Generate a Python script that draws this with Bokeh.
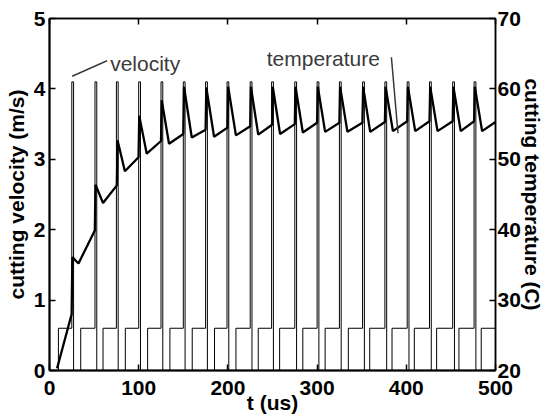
import math
from bokeh.plotting import figure
from bokeh.models import Range1d, LinearAxis, FixedTicker, Label
from bokeh.embed import file_html
from bokeh.resources import INLINE

# ---------------- data ----------------
x_ticks = [0, 100, 200, 300, 400, 500]
vel_ticks = [0, 1, 2, 3, 4, 5]
temp_ticks = [20, 30, 40, 50, 60, 70]

# velocity square wave (t in us, velocity in m/s)
vel_on_times = [10, 35, 60, 85, 110, 135, 160, 185, 209, 234, 258, 284, 309, 335, 359, 384, 409, 434, 459, 484]
vel_spike_times = [25, 51, 75, 100, 125, 150, 175, 199, 225, 249, 275, 300, 325, 351, 376, 401, 426, 452, 476]
vel_off_times = [27, 53, 77, 102, 127, 152, 177, 201, 227, 251, 277, 302, 327, 353, 378, 403, 428, 454, 478]
vel_base = 0.6
vel_peak = 4.1
t_end = 500

# temperature (t in us, temperature in C)
temp_t = [8.5, 24.8, 25.6, 32.5,
          50.8, 51.6, 60.0,
          75.5, 76.3, 84.5,
          99.8, 100.6, 109.0,
          125.0, 125.8, 134.0,
          150.0, 150.8, 159.5,
          175.0, 175.8, 184.5,
          199.5, 200.3, 209.0,
          225.0, 225.8, 234.0,
          249.5, 250.3, 258.5,
          275.0, 275.8, 284.0,
          300.0, 300.8, 309.0,
          325.0, 325.8, 334.0,
          350.8, 351.6, 359.5,
          376.0, 376.8, 385.0,
          401.0, 401.8, 410.0,
          426.0, 426.8, 435.0,
          452.0, 452.8, 461.0,
          476.0, 476.8, 485.0,
          500.0]
temp_c = [20.3, 28.0, 36.1, 35.2,
          39.9, 46.4, 43.8,
          46.3, 52.7, 48.3,
          50.3, 56.2, 50.8,
          52.6, 58.4, 52.2,
          53.6, 60.3, 53.1,
          54.2, 60.2, 53.2,
          54.5, 60.3, 53.4,
          54.7, 60.3, 53.5,
          54.9, 60.3, 53.6,
          55.0, 60.3, 53.8,
          55.2, 60.3, 53.9,
          55.2, 60.3, 53.9,
          55.2, 60.3, 53.9,
          55.3, 60.3, 54.0,
          55.4, 60.3, 54.0,
          55.4, 60.3, 54.0,
          55.4, 60.3, 54.0,
          55.4, 60.3, 54.0,
          55.3]

# annotation texts and their pointers (data coordinates)
vel_note = ("velocity", 68.0, 4.36)
vel_pointer = ([25.4, 64.5], [4.18, 4.40])
temp_note = ("temperature", 243.5, 4.43)
temp_pointer = ([383.3, 390.7], [4.45, 3.37])

x_title = "t (us)"
vel_title = "cutting velocity (m/s)"
temp_title = "cutting temperature (C)"

# ---------------- build velocity polyline from the switching times ----------------
vt, vv = [0], [0]
for i, on in enumerate(vel_on_times):
    vt += [on, on]
    vv += [0, vel_base]
    if i < len(vel_spike_times):
        s, o = vel_spike_times[i], vel_off_times[i]
        vt += [s, s, o, o]
        vv += [vel_base, vel_peak, vel_peak, 0]
vt.append(t_end)
vv.append(vel_base)

# ---------------- figure ----------------
FONT = "Liberation Sans"
p = figure(width=546, height=417, output_backend="svg", toolbar_location=None,
           x_range=Range1d(0, 500), y_range=Range1d(0, 5),
           min_border_left=49, min_border_right=50, min_border_top=18, min_border_bottom=47)
p.extra_y_ranges = {"temp": Range1d(20, 70)}
p.xgrid.visible = False
p.ygrid.visible = False
p.background_fill_color = "white"
p.border_fill_color = "white"
p.outline_line_color = "black"
p.outline_line_width = 1.5


def style(ax, lw, standoff):
    ax.major_tick_in = 6
    ax.major_tick_out = 0
    ax.minor_tick_line_color = None
    ax.major_tick_line_color = "black"
    ax.major_tick_line_width = 1.5
    ax.axis_line_color = "black"
    ax.axis_line_width = lw
    ax.major_label_text_font = FONT
    ax.major_label_text_font_style = "bold"
    ax.major_label_text_font_size = "21px"
    ax.major_label_text_color = "black"
    ax.major_label_standoff = standoff
    ax.axis_label_text_font = FONT
    ax.axis_label_text_font_style = "bold"
    ax.axis_label_text_font_size = "21px"
    ax.axis_label_text_color = "black"


xa = p.xaxis[0]
xa.ticker = FixedTicker(ticks=x_ticks)
style(xa, 2, 10)
xa.axis_label = x_title
xa.axis_label_standoff = -7

ya = p.yaxis[0]
ya.ticker = FixedTicker(ticks=vel_ticks)
style(ya, 2, 4)
ya.axis_label = vel_title
ya.axis_label_standoff = 3

# right axis with temperature ticks and its title
ra = LinearAxis(y_range_name="temp", ticker=FixedTicker(ticks=temp_ticks))
style(ra, 1.5, 2)
ra.axis_label = temp_title
ra.axis_label_standoff = -3
p.add_layout(ra, "right")

# top axis: inward ticks only
ta = LinearAxis(ticker=FixedTicker(ticks=x_ticks))
style(ta, 1.5, 0)
ta.major_label_overrides = {t: "" for t in x_ticks}
ta.major_label_text_font_size = "0px"
p.add_layout(ta, "above")

# data lines
p.line(vt, vv, line_color="black", line_width=1)
p.line(temp_t, temp_c, y_range_name="temp", line_color="black", line_width=2.3)

# annotations
NOTE_COLOR = "#3a3a3a"
p.segment(x0=[vel_pointer[0][0]], y0=[vel_pointer[1][0]], x1=[vel_pointer[0][1]], y1=[vel_pointer[1][1]],
          line_color=NOTE_COLOR, line_width=1.5)
p.segment(x0=[temp_pointer[0][0]], y0=[temp_pointer[1][0]], x1=[temp_pointer[0][1]], y1=[temp_pointer[1][1]],
          line_color=NOTE_COLOR, line_width=1.5)
for txt, x, y in (vel_note, temp_note):
    p.add_layout(Label(x=x, y=y, text=txt, text_font=FONT, text_font_size="21px",
                       text_color=NOTE_COLOR, text_align="left", text_baseline="alphabetic"))

open("out.html", "w").write(file_html(p, INLINE))
